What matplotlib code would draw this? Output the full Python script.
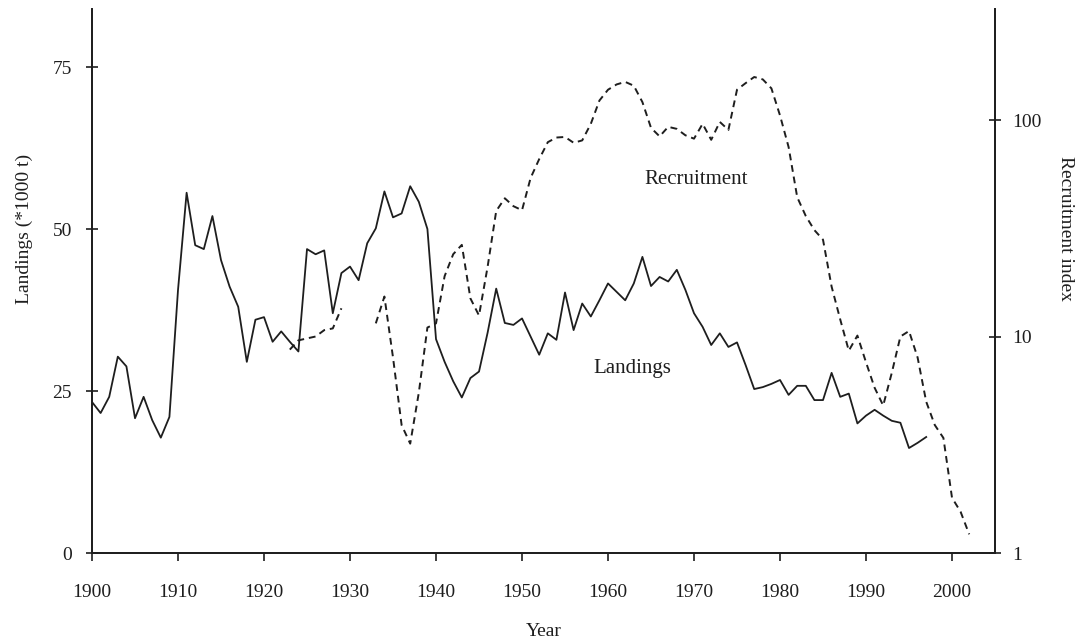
import matplotlib
matplotlib.use("Agg")
import matplotlib.pyplot as plt
import matplotlib.ticker as mticker
import numpy as np

plt.rcParams['font.family'] = ['Liberation Serif', 'DejaVu Serif']

# landings (*1000 t), 1900-1997
land_years = np.arange(1900, 1998)
landings = [
    23.3, 21.6, 24.1, 30.3, 28.8, 20.8, 24.1, 20.5, 17.8, 21.0,   # 1900s
    40.6, 55.6, 47.5, 46.9, 52.0, 45.2, 41.1, 38.0, 29.5, 36.0,   # 1910s
    36.4, 32.6, 34.2, 32.6, 31.1, 46.9, 46.1, 46.7, 37.0, 43.2,   # 1920s
    44.2, 42.1, 47.8, 50.1, 55.8, 51.8, 52.4, 56.6, 54.2, 50.0,   # 1930s
    33.0, 29.5, 26.5, 24.0, 27.0, 28.0, 34.0, 40.8, 35.5, 35.2,   # 1940s
    36.2, 33.4, 30.6, 33.9, 32.9, 40.2, 34.4, 38.5, 36.5, 39.0,   # 1950s
    41.6, 40.3, 39.0, 41.6, 45.7, 41.2, 42.6, 41.9, 43.7, 40.6,   # 1960s
    37.0, 34.9, 32.1, 33.9, 31.8, 32.5, 29.0, 25.3, 25.6, 26.1,   # 1970s
    26.7, 24.4, 25.8, 25.8, 23.6, 23.6, 27.8, 24.1, 24.6, 20.0,   # 1980s
    21.2, 22.1, 21.2, 20.4, 20.1, 16.2, 17.0, 17.9,               # 1990s
]

# recruitment index, 1923-2002 (gap 1930-1932)
rec_years = np.arange(1923, 2003)
recruitment = [
    8.7, 9.6, 9.8, 10.0, 10.7, 10.9, 13.5,                        # 1923-29
    np.nan, np.nan, np.nan, 11.5, 15.3, 8.0, 3.9, 3.2, 5.5, 11.0, # 1930s
    11.5, 19.0, 24.0, 26.5, 15.0, 12.5, 21.0, 38.0, 43.5, 40.0,   # 1940s
    38.3, 54.0, 66.0, 79.0, 83.0, 83.5, 78.5, 80.5, 96.0, 123.0,  # 1950s
    138.0, 146.0, 150.0, 144.0, 121.0, 92.0, 84.0, 93.0, 91.0, 85.0,  # 1960s
    82.0, 96.0, 81.0, 98.0, 90.0, 138.0, 148.0, 158.0, 154.0, 140.0,  # 1970s
    105.0, 75.0, 44.0, 36.0, 31.0, 28.0, 17.0, 12.0, 8.6, 10.1,   # 1980s
    7.6, 5.8, 4.8, 6.8, 10.0, 10.6, 8.0, 5.0, 3.9, 3.4,           # 1990s
    1.8, 1.55, 1.22,                                              # 2000-02
]

fig = plt.figure(figsize=(10.8, 6.44), dpi=100)
ax = fig.add_axes([0.0852, 0.1413, 0.9213 - 0.0852, 0.986 - 0.1413])
ax2 = ax.twinx()

ink = '#1e1e1e'
ax.plot(land_years, landings, color=ink, lw=1.3)
ax2.plot(rec_years, recruitment, color=ink, lw=1.4, linestyle=(0, (3.5, 2.5)))

ax.set_xlim(1900, 2005)
ax.set_ylim(0, 83.95)
ax2.set_yscale('log')
ax2.set_ylim(1, 325.6)

ax.set_xticks(np.arange(1900, 2001, 10))
ax.set_yticks([0, 25, 50, 75])
ax2.set_yticks([1, 10, 100])
ax2.yaxis.set_major_formatter(mticker.FuncFormatter(lambda v, p: f"{v:g}"))
ax2.yaxis.set_minor_locator(mticker.NullLocator())

for a in (ax, ax2):
    a.spines['top'].set_visible(False)
    for s in a.spines.values():
        s.set_linewidth(1.3)
        s.set_color(ink)

ax.tick_params(axis='x', direction='out', length=6, width=1.2, labelsize=14, pad=16, colors=ink)
ax.tick_params(axis='y', direction='inout', length=9, width=1.2, labelsize=14, pad=10, colors=ink)
ax2.tick_params(axis='y', direction='inout', length=9, width=1.2, labelsize=14, pad=8, colors=ink)

ax.set_xlabel('Year', fontsize=14, labelpad=16, color=ink)
ax.set_ylabel('Landings (*1000 t)', fontsize=14, color=ink)
ax.yaxis.set_label_coords(-0.065, 0.596)
ax2.set_ylabel('Recruitment index', fontsize=14, rotation=270, color=ink)
ax2.yaxis.set_label_coords(1.088, 0.596)

ax.text(1970.2, 57.6, 'Recruitment', fontsize=15, ha='center', va='center', color=ink)
ax.text(1962.8, 28.5, 'Landings', fontsize=15, ha='center', va='center', color=ink)

fig.savefig('out.png', dpi=100)
